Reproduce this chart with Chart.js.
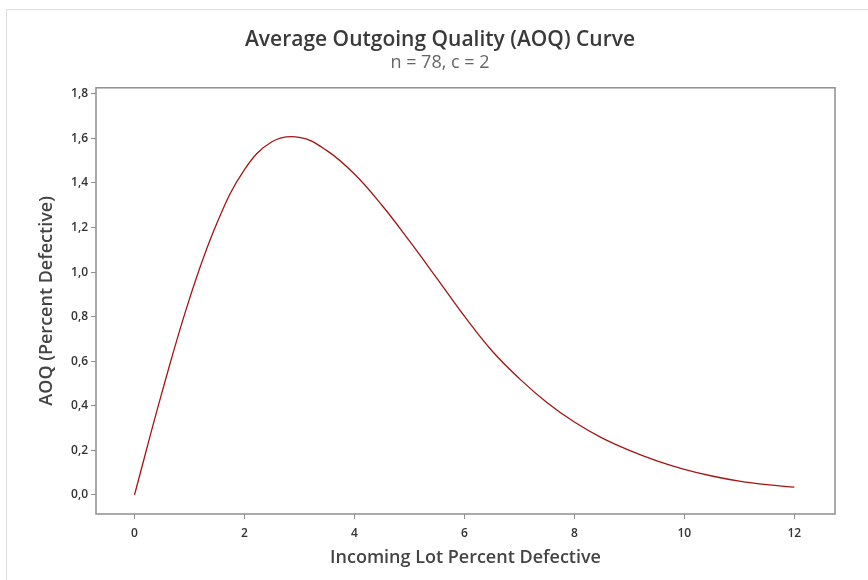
<!DOCTYPE html>
<html>
<head>
<meta charset="utf-8">
<script src="https://cdn.jsdelivr.net/npm/chart.js@4"></script>
<style>
  html, body { margin: 0; padding: 0; background: #fff; }
  #frame { position: absolute; left: 6px; top: 9px; width: 900px; height: 600px; border-left: 1px solid #dedede; border-top: 1px solid #dedede; }
  #wrap { position: absolute; left: 0; top: 0; width: 868px; height: 580px; }
</style>
</head>
<body>
<div id="frame"></div>
<div id="wrap"><canvas id="c" width="868" height="580"></canvas></div>
<script>
// incoming lot percent defective (x) and AOQ (y)
const pctDefective = [0, 0.5, 1, 1.5, 2, 2.5, 3, 3.5, 4, 4.5, 5, 5.5, 6, 6.5, 7, 7.5, 8, 8.5, 9, 9.5, 10, 10.5, 11, 11.5, 12];
const aoq = [0, 0.46, 0.88, 1.22, 1.46, 1.585, 1.605, 1.545, 1.44, 1.30, 1.14, 0.972, 0.802, 0.647, 0.522, 0.415, 0.327, 0.256, 0.2, 0.153, 0.115, 0.085, 0.062, 0.046, 0.035];

const AXIS = '#8f8f8f';
const TXT = '#333';
const FONT = "'Open Sans', 'Noto Sans', sans-serif";

const boxPlugin = {
  id: 'box',
  afterDraw(chart) {
    const { ctx, chartArea: a } = chart;
    ctx.save();
    ctx.strokeStyle = AXIS;
    ctx.lineWidth = 1.5;
    ctx.strokeRect(a.left, a.top, a.right - a.left, a.bottom - a.top);
    ctx.restore();
  },
};

new Chart(document.getElementById('c').getContext('2d'), {
  type: 'line',
  data: {
    datasets: [{
      data: pctDefective.map((x, i) => ({ x, y: aoq[i] })),
      borderColor: '#a31515',
      borderWidth: 1.3,
      pointRadius: 0,
      tension: 0.4,
      fill: false,
    }],
  },
  plugins: [boxPlugin],
  options: {
    responsive: false,
    animation: false,
    events: [],
    layout: { padding: { left: 12, right: 0, top: 0, bottom: 0 } },
    plugins: {
      legend: { display: false },
      tooltip: { enabled: false },
      title: {
        display: true,
        text: 'Average Outgoing Quality (AOQ) Curve',
        color: '#3a3a3a',
        font: { family: FONT, size: 21, weight: '600' },
        padding: { top: 27, bottom: 0 },
      },
      subtitle: {
        display: true,
        text: 'n = 78, c = 2',
        color: '#666',
        font: { family: FONT, size: 18, weight: 'normal' },
        padding: { top: 0, bottom: 14 },
      },
    },
    scales: {
      x: {
        type: 'linear',
        min: -0.7,
        max: 12.74,
        afterFit: s => { s.height = 66; },
        ticks: { stepSize: 2, includeBounds: false, color: TXT, padding: 7, font: { family: FONT, size: 12, weight: '600' } },
        grid: { drawOnChartArea: false, drawTicks: true, tickLength: 5, color: AXIS },
        border: { display: false },
        title: {
          display: true,
          text: 'Incoming Lot Percent Defective',
          color: '#444',
          font: { family: FONT, size: 18, weight: '600' },
          padding: { top: 0, bottom: 11 },
        },
      },
      y: {
        min: -0.0855,
        max: 1.827,
        afterFit: s => { s.width = 84; },
        ticks: {
          stepSize: 0.2,
          includeBounds: false,
          color: TXT,
          padding: 3,
          font: { family: FONT, size: 12, weight: '600' },
          callback: v => v.toFixed(1).replace('.', ','),
        },
        grid: { drawOnChartArea: false, drawTicks: true, tickLength: 5, color: AXIS },
        border: { display: false },
        title: {
          display: true,
          text: 'AOQ (Percent Defective)',
          color: '#444',
          font: { family: FONT, size: 18, weight: '600' },
          padding: { top: 24, bottom: 0 },
        },
      },
      // empty right-hand axis, only keeps the plot box off the right edge
      yPad: {
        position: 'right',
        display: true,
        afterFit: s => { s.width = 33; },
        ticks: { display: false },
        grid: { display: false },
        border: { display: false },
      },
    },
  },
});
</script>
</body>
</html>
